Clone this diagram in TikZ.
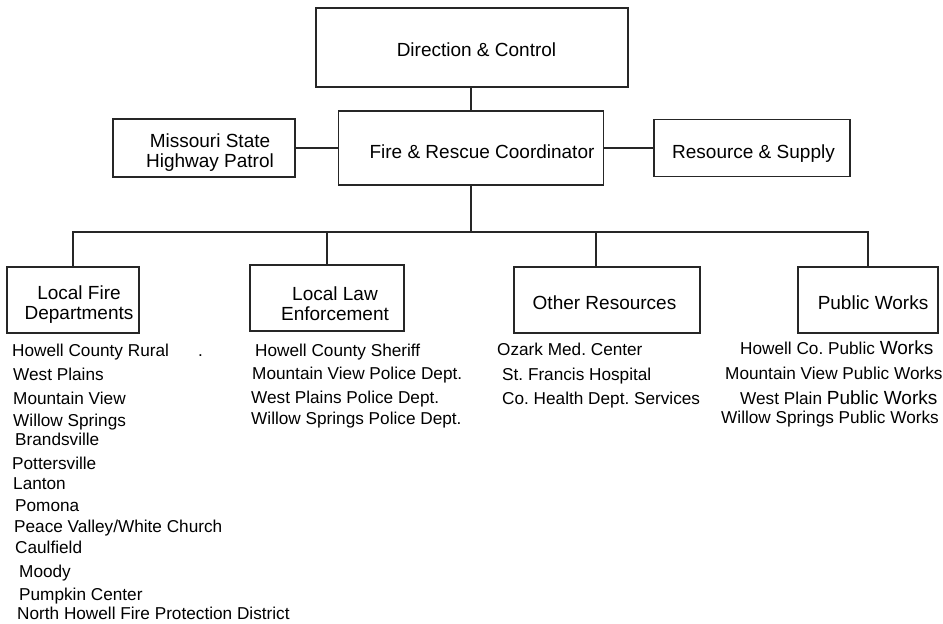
\documentclass[tikz,border=0pt]{standalone}
\usepackage{fontspec}
\setmainfont{Liberation Sans}
\frenchspacing
\begin{document}
\begin{tikzpicture}[x=1pt,y=-1pt,
  box/.style={draw=black!85, line width=1.4pt, rectangle, inner sep=0pt},
  conn/.style={draw=black!85, line width=1.4pt},
  big/.style={inner sep=0pt, anchor=base, font=\fontsize{19}{20}\selectfont, align=center},
  item/.style={inner sep=0pt, anchor=base west, font=\fontsize{17.2}{20}\selectfont}]
\useasboundingbox (0,0) rectangle (943,624);
\newcommand\bigw[1]{{\fontsize{19}{20}\selectfont #1}}
% boxes
\node[box, minimum width=312pt, minimum height=79pt] (dc) at (472,47.5) {};
\node[box, minimum width=265pt, minimum height=74pt] (fr) at (471,148) {};
\node[box, minimum width=182pt, minimum height=58pt] (ms) at (204,148) {};
\node[box, minimum width=196pt, minimum height=57pt] (rs) at (752,148) {};
\node[box, minimum width=132pt, minimum height=66pt] (lf) at (73,300) {};
\node[box, minimum width=154pt, minimum height=66pt] (ll) at (327,298) {};
\node[box, minimum width=186pt, minimum height=66pt] (ot) at (607,300) {};
\node[box, minimum width=140pt, minimum height=66pt] (pw) at (868,300) {};
% box texts
\node[big] (tdc) at (476.5,56) {Direction \& Control};
\node[big] (tfr) at (482,158) {Fire \& Rescue Coordinator};
\node[big] (tms) at (210,167) {Missouri State\\Highway Patrol};
\node[big] (trs) at (753.5,158) {Resource \& Supply};
\node[big] (tlf) at (79,319) {Local Fire\\Departments};
\node[big] (tll) at (335,320) {Local Law\\Enforcement};
\node[big] (tot) at (604.5,309) {Other Resources};
\node[big] (tpw) at (873,309) {Public Works};
% connectors
\coordinate (bar) at (0,232);
\draw[conn] (fr.north) -- (fr.north |- dc.south);
\draw[conn] (ms.east) -- (ms.east -| fr.west);
\draw[conn] (fr.east) -- (fr.east -| rs.west);
\draw[conn] (fr.south) -- (fr.south |- bar);
\draw[conn] (lf.north) -- (lf.north |- bar) -- (pw.north |- bar) -- (pw.north);
\draw[conn] (ll.north) -- (ll.north |- bar);
\draw[conn] ([xshift=-11pt]ot.north) -- ([xshift=-11pt]ot.north |- bar);
% fire list
\node[item] (f1) at (12,356) {Howell County Rural};
\node[item] (f1d) at (198,356) {.};
\node[item] (f2) at (13,380) {West Plains};
\node[item] (f3) at (13,404) {Mountain View};
\node[item] (f4) at (13,426) {Willow Springs};
\node[item] (f5) at (15,445) {Brandsville};
\node[item] (f6) at (12,469) {Pottersville};
\node[item] (f7) at (13,489) {Lanton};
\node[item] (f8) at (15,511) {Pomona};
\node[item] (f9) at (14,532) {Peace Valley/White Church};
\node[item] (f10) at (15,553) {Caulfield};
\node[item] (f11) at (19,577) {Moody};
\node[item] (f12) at (19,600) {Pumpkin Center};
\node[item] (f13) at (17,619) {North Howell Fire Protection District};
% law list
\node[item] (l1) at (255,356) {Howell County Sheriff};
\node[item] (l2) at (252,379) {Mountain View Police Dept.};
\node[item] (l3) at (251,403) {West Plains Police Dept.};
\node[item] (l4) at (251,424) {Willow Springs Police Dept.};
% other list
\node[item] (o1) at (497,355) {Ozark Med. Center};
\node[item] (o2) at (502,380) {St. Francis Hospital};
\node[item] (o3) at (502,404) {Co. Health Dept. Services};
% public works list
\node[item] (p1) at (740,354) {Howell Co. Public \bigw{Works}};
\node[item] (p2) at (725,379) {Mountain View Public Works};
\node[item] (p3) at (740,404) {West Plain \bigw{Public Works}};
\node[item] (p4) at (721,423) {Willow Springs Public Works};
\end{tikzpicture}
\end{document}
